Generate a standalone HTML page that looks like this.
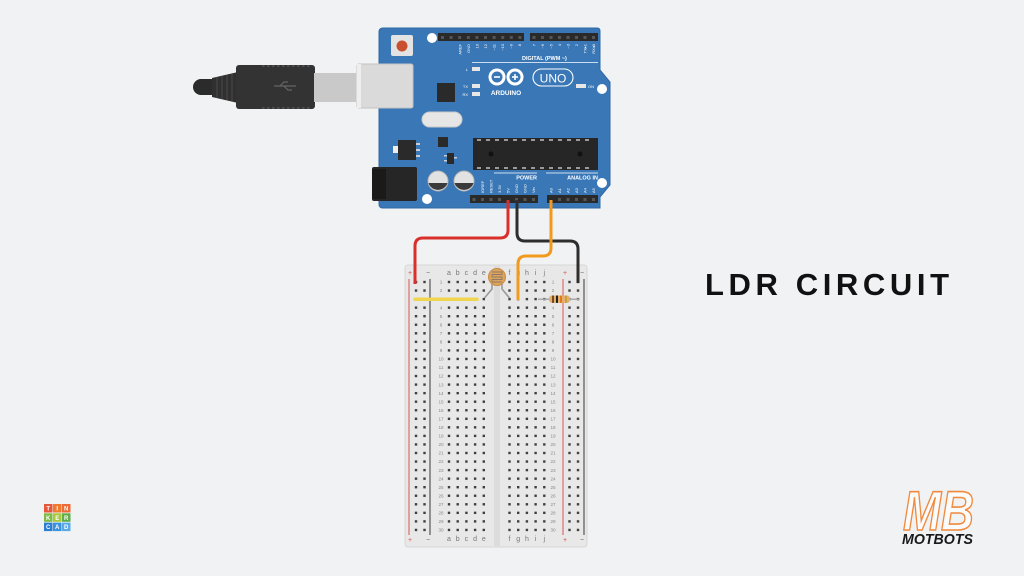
<!DOCTYPE html>
<html><head><meta charset="utf-8"><style>
html,body{margin:0;padding:0;background:#f1f2f4;}
svg{display:block;}
</style></head><body>
<svg width="1024" height="576" viewBox="0 0 1024 576" xmlns="http://www.w3.org/2000/svg" font-family="Liberation Sans, sans-serif">
<defs>
<pattern id="hT" patternUnits="userSpaceOnUse" x="447.8" y="280.8" width="8.7" height="8.55"><rect x="0" y="0" width="2.4" height="2.4" fill="#3e3e3e"/></pattern>
<pattern id="hT2" patternUnits="userSpaceOnUse" x="508.3" y="280.8" width="8.7" height="8.55"><rect x="0" y="0" width="2.4" height="2.4" fill="#3e3e3e"/></pattern>
<pattern id="hL" patternUnits="userSpaceOnUse" x="414.8" y="280.8" width="8.5" height="8.55"><rect x="0" y="0" width="2.4" height="2.4" fill="#3e3e3e"/></pattern>
<pattern id="hR" patternUnits="userSpaceOnUse" x="568.3" y="280.8" width="8.5" height="8.55"><rect x="0" y="0" width="2.4" height="2.4" fill="#3e3e3e"/></pattern>
</defs>
<rect width="1024" height="576" fill="#f1f2f4"/>

<!-- USB cable -->
<rect x="193" y="79" width="26" height="16" rx="8" fill="#2b2b2b"/>
<polygon points="212,78 238,72 238,103 212,97" fill="#303030"/>
<g stroke="#4a4a4a" stroke-width="1">
<line x1="217" y1="77" x2="217" y2="98"/><line x1="222" y1="76" x2="222" y2="99"/><line x1="227" y1="75" x2="227" y2="100"/><line x1="232" y1="74" x2="232" y2="101"/>
</g>
<rect x="236" y="65" width="79" height="44" rx="3" fill="#333"/>
<line x1="262" y1="66" x2="310" y2="66" stroke="#555" stroke-width="1.5" stroke-dasharray="2.5,2.5"/>
<line x1="262" y1="108" x2="310" y2="108" stroke="#555" stroke-width="1.5" stroke-dasharray="2.5,2.5"/>
<g stroke="#666" stroke-width="1.2" fill="none"><line x1="274" y1="86" x2="296" y2="86"/><path d="M280,86 l4,-4 h4"/><path d="M284,86 l4,4 h4"/></g>
<rect x="314" y="73" width="42" height="29" fill="#c9c9c9"/>

<!-- Arduino board -->
<path d="M383,28 L597,28 Q600,28 600,31 L600,70 L610,82 L610,185 L600,197 L600,208 L383,208 Q379,208 379,204 L379,32 Q379,28 383,28 Z" fill="#3a77b6" stroke="#2f68a3" stroke-width="1"/>
<rect x="357" y="64" width="56" height="44" rx="2" fill="#dadada" stroke="#c2c2c2"/>
<rect x="357" y="64" width="4" height="44" fill="#eeeeee"/>
<!-- power jack -->
<rect x="372" y="167" width="45" height="34" rx="2" fill="#262626"/>
<rect x="372" y="169" width="14" height="30" fill="#1a1a1a"/>
<!-- reset -->
<rect x="391" y="35" width="22" height="21" rx="2" fill="#e3e3e3"/>
<circle cx="402" cy="46" r="5.5" fill="#c9502f"/>
<!-- mounting holes -->
<circle cx="432" cy="38" r="5" fill="#fff"/>
<circle cx="602" cy="89" r="5" fill="#fff"/>
<circle cx="602" cy="183" r="5" fill="#fff"/>
<circle cx="427" cy="199" r="5" fill="#fff"/>
<!-- top headers -->
<rect x="438" y="33" width="86" height="8" fill="#2a2a2a"/>
<rect x="530" y="33" width="68" height="8" fill="#2a2a2a"/>
<g fill="#555">
<rect x="441" y="36" width="3" height="3"/><rect x="449.6" y="36" width="3" height="3"/><rect x="458.2" y="36" width="3" height="3"/><rect x="466.8" y="36" width="3" height="3"/><rect x="475.4" y="36" width="3" height="3"/><rect x="484" y="36" width="3" height="3"/><rect x="492.6" y="36" width="3" height="3"/><rect x="501.2" y="36" width="3" height="3"/><rect x="509.8" y="36" width="3" height="3"/><rect x="518.4" y="36" width="3" height="3"/>
<rect x="532.5" y="36" width="3" height="3"/><rect x="541" y="36" width="3" height="3"/><rect x="549.5" y="36" width="3" height="3"/><rect x="558" y="36" width="3" height="3"/><rect x="566.5" y="36" width="3" height="3"/><rect x="575" y="36" width="3" height="3"/><rect x="583.5" y="36" width="3" height="3"/><rect x="592" y="36" width="3" height="3"/>
</g>
<g fill="#fff" font-size="4" text-anchor="end">
<text transform="translate(461.5,44) rotate(-90)">AREF</text>
<text transform="translate(470,44) rotate(-90)">GND</text>
<text transform="translate(478.5,44) rotate(-90)">13</text>
<text transform="translate(487,44) rotate(-90)">12</text>
<text transform="translate(495.5,44) rotate(-90)">~11</text>
<text transform="translate(504,44) rotate(-90)">~10</text>
<text transform="translate(512.5,44) rotate(-90)">~9</text>
<text transform="translate(521,44) rotate(-90)">8</text>
<text transform="translate(535.5,44) rotate(-90)">7</text>
<text transform="translate(544,44) rotate(-90)">~6</text>
<text transform="translate(552.5,44) rotate(-90)">~5</text>
<text transform="translate(561,44) rotate(-90)">4</text>
<text transform="translate(569.5,44) rotate(-90)">~3</text>
<text transform="translate(578,44) rotate(-90)">2</text>
<text transform="translate(586.5,44) rotate(-90)">TX▸1</text>
<text transform="translate(595,44) rotate(-90)">RX◂0</text>
</g>
<text x="522" y="60" font-size="5.5" font-weight="bold" fill="#fff">DIGITAL (PWM ~)</text>
<line x1="472" y1="62.5" x2="598" y2="62.5" stroke="#fff" stroke-width="0.8"/>
<!-- logo -->
<circle cx="497" cy="77" r="7" fill="none" stroke="#fff" stroke-width="3"/>
<circle cx="515" cy="77" r="7" fill="none" stroke="#fff" stroke-width="3"/>
<line x1="494" y1="77" x2="500" y2="77" stroke="#fff" stroke-width="1.6"/>
<line x1="512" y1="77" x2="518" y2="77" stroke="#fff" stroke-width="1.6"/>
<line x1="515" y1="74" x2="515" y2="80" stroke="#fff" stroke-width="1.6"/>
<text x="506" y="95" font-size="6.5" font-weight="bold" fill="#fff" text-anchor="middle">ARDUINO</text>
<rect x="533" y="69" width="40" height="17" rx="8.5" fill="none" stroke="#fff" stroke-width="1.1"/>
<text x="553" y="82.5" font-size="12" fill="#fff" text-anchor="middle">UNO</text>
<!-- LEDs -->
<rect x="472" y="67" width="8" height="4" fill="#e6e6e6"/><text x="468" y="71" font-size="4" fill="#fff" text-anchor="end">L</text>
<rect x="472" y="84" width="8" height="4" fill="#e6e6e6"/><text x="468" y="88" font-size="4" fill="#fff" text-anchor="end">TX</text>
<rect x="472" y="92" width="8" height="4" fill="#e6e6e6"/><text x="468" y="96" font-size="4" fill="#fff" text-anchor="end">RX</text>
<rect x="576" y="84" width="10" height="4" fill="#e6e6e6"/><text x="588" y="88" font-size="4" fill="#fff">ON</text>
<!-- components -->
<rect x="437" y="83" width="18" height="19" fill="#2a2a2a"/>
<rect x="422" y="112" width="40" height="15" rx="7.5" fill="#e6e6e6" stroke="#c8c8c8"/>
<rect x="438" y="137" width="10" height="10" fill="#2a2a2a"/>
<rect x="393" y="146" width="6" height="7" fill="#eee"/>
<rect x="398" y="140" width="18" height="20" fill="#2a2a2a"/>
<rect x="416" y="143" width="4" height="2" fill="#ccc"/><rect x="416" y="149" width="4" height="2" fill="#ccc"/><rect x="416" y="155" width="4" height="2" fill="#ccc"/>
<rect x="447" y="153" width="7" height="11" fill="#2a2a2a"/>
<rect x="444" y="155" width="3" height="1.5" fill="#ccc"/><rect x="444" y="160" width="3" height="1.5" fill="#ccc"/><rect x="454" y="157" width="3" height="1.5" fill="#ccc"/>
<!-- ATmega -->
<rect x="473" y="138" width="125" height="32" fill="#262626"/>
<g fill="#9a9a9a">
<rect x="477" y="139" width="4" height="2"/><rect x="486" y="139" width="4" height="2"/><rect x="495" y="139" width="4" height="2"/><rect x="504" y="139" width="4" height="2"/><rect x="513" y="139" width="4" height="2"/><rect x="522" y="139" width="4" height="2"/><rect x="531" y="139" width="4" height="2"/><rect x="540" y="139" width="4" height="2"/><rect x="549" y="139" width="4" height="2"/><rect x="558" y="139" width="4" height="2"/><rect x="567" y="139" width="4" height="2"/><rect x="576" y="139" width="4" height="2"/><rect x="585" y="139" width="4" height="2"/>
<rect x="477" y="167" width="4" height="2"/><rect x="486" y="167" width="4" height="2"/><rect x="495" y="167" width="4" height="2"/><rect x="504" y="167" width="4" height="2"/><rect x="513" y="167" width="4" height="2"/><rect x="522" y="167" width="4" height="2"/><rect x="531" y="167" width="4" height="2"/><rect x="540" y="167" width="4" height="2"/><rect x="549" y="167" width="4" height="2"/><rect x="558" y="167" width="4" height="2"/><rect x="567" y="167" width="4" height="2"/><rect x="576" y="167" width="4" height="2"/><rect x="585" y="167" width="4" height="2"/>
</g>
<circle cx="491" cy="154" r="2.5" fill="#111"/><circle cx="580" cy="154" r="2.5" fill="#111"/>
<!-- capacitors -->
<circle cx="438" cy="181" r="10" fill="#e2e2e2" stroke="#b5b5b5"/>
<path d="M428.5,183 A10,10 0 0,0 447.5,183 Z" fill="#3a3a3a"/>
<circle cx="464" cy="181" r="10" fill="#e2e2e2" stroke="#b5b5b5"/>
<path d="M454.5,183 A10,10 0 0,0 473.5,183 Z" fill="#3a3a3a"/>
<!-- power / analog labels -->
<line x1="494" y1="173" x2="537" y2="173" stroke="#fff" stroke-width="0.8"/>
<line x1="546" y1="173" x2="598" y2="173" stroke="#fff" stroke-width="0.8"/>
<text x="537" y="179.5" font-size="5.5" font-weight="bold" fill="#fff" text-anchor="end">POWER</text>
<text x="598" y="179.5" font-size="5.5" font-weight="bold" fill="#fff" text-anchor="end">ANALOG IN</text>
<g fill="#fff" font-size="4">
<text transform="translate(484,193) rotate(-90)">IOREF</text>
<text transform="translate(492.5,193) rotate(-90)">RESET</text>
<text transform="translate(501,193) rotate(-90)">3.3V</text>
<text transform="translate(509.5,193) rotate(-90)">5V</text>
<text transform="translate(518,193) rotate(-90)">GND</text>
<text transform="translate(526.5,193) rotate(-90)">GND</text>
<text transform="translate(535,193) rotate(-90)">Vin</text>
<text transform="translate(552.5,193) rotate(-90)">A0</text>
<text transform="translate(561,193) rotate(-90)">A1</text>
<text transform="translate(569.5,193) rotate(-90)">A2</text>
<text transform="translate(578,193) rotate(-90)">A3</text>
<text transform="translate(586.5,193) rotate(-90)">A4</text>
<text transform="translate(595,193) rotate(-90)">A5</text>
</g>
<!-- bottom headers -->
<rect x="470" y="195" width="68" height="8" fill="#2a2a2a"/>
<rect x="547" y="195" width="51" height="8" fill="#2a2a2a"/>
<g fill="#555">
<rect x="472.5" y="198" width="3" height="3"/><rect x="481" y="198" width="3" height="3"/><rect x="489.5" y="198" width="3" height="3"/><rect x="498" y="198" width="3" height="3"/><rect x="515" y="198" width="3" height="3"/><rect x="523.5" y="198" width="3" height="3"/><rect x="532" y="198" width="3" height="3"/>
<rect x="558" y="198" width="3" height="3"/><rect x="566.5" y="198" width="3" height="3"/><rect x="575" y="198" width="3" height="3"/><rect x="583.5" y="198" width="3" height="3"/><rect x="592" y="198" width="3" height="3"/>
</g>

<!-- Breadboard -->
<rect x="405" y="265" width="182" height="282" rx="3" fill="#e8e8e8" stroke="#d6d6d6"/>
<rect x="494" y="266" width="6" height="280" fill="#dcdcdc"/>
<line x1="409" y1="279" x2="409" y2="535" stroke="#d9534f" stroke-width="1"/>
<line x1="430" y1="279" x2="430" y2="535" stroke="#555" stroke-width="1.2"/>
<line x1="563" y1="279" x2="563" y2="535" stroke="#d9534f" stroke-width="1"/>
<line x1="584" y1="279" x2="584" y2="535" stroke="#555" stroke-width="1.2"/>
<rect x="413" y="280" width="15" height="257" fill="url(#hL)"/>
<rect x="566" y="280" width="15" height="257" fill="url(#hR)"/>
<rect x="446" y="280" width="42" height="257" fill="url(#hT)"/>
<rect x="507" y="280" width="42" height="257" fill="url(#hT2)"/>
<g font-size="7" fill="#d9534f" text-anchor="middle"><text x="410" y="275">+</text><text x="565" y="275">+</text><text x="410" y="542">+</text><text x="565" y="542">+</text></g>
<g font-size="7" fill="#666" text-anchor="middle"><text x="428" y="275">−</text><text x="582" y="275">−</text><text x="428" y="542">−</text><text x="582" y="542">−</text></g>
<g font-size="7" fill="#777" text-anchor="middle">
<text x="449" y="275">a</text><text x="457.7" y="275">b</text><text x="466.4" y="275">c</text><text x="475.1" y="275">d</text><text x="483.8" y="275">e</text>
<text x="509.5" y="275">f</text><text x="518.2" y="275">g</text><text x="526.9" y="275">h</text><text x="535.6" y="275">i</text><text x="544.3" y="275">j</text>
<text x="449" y="541">a</text><text x="457.7" y="541">b</text><text x="466.4" y="541">c</text><text x="475.1" y="541">d</text><text x="483.8" y="541">e</text>
<text x="509.5" y="541">f</text><text x="518.2" y="541">g</text><text x="526.9" y="541">h</text><text x="535.6" y="541">i</text><text x="544.3" y="541">j</text>
</g>
<g font-size="4.6" fill="#888" text-anchor="middle">
<text x="441" y="283.7">1</text><text x="441" y="292.2">2</text><text x="441" y="300.8">3</text><text x="441" y="309.3">4</text><text x="441" y="317.9">5</text><text x="441" y="326.4">6</text><text x="441" y="335">7</text><text x="441" y="343.5">8</text><text x="441" y="352.1">9</text><text x="441" y="360.6">10</text><text x="441" y="369.2">11</text><text x="441" y="377.7">12</text><text x="441" y="386.3">13</text><text x="441" y="394.8">14</text><text x="441" y="403.4">15</text><text x="441" y="411.9">16</text><text x="441" y="420.5">17</text><text x="441" y="429">18</text><text x="441" y="437.6">19</text><text x="441" y="446.1">20</text><text x="441" y="454.7">21</text><text x="441" y="463.2">22</text><text x="441" y="471.8">23</text><text x="441" y="480.3">24</text><text x="441" y="488.9">25</text><text x="441" y="497.4">26</text><text x="441" y="506">27</text><text x="441" y="514.5">28</text><text x="441" y="523.1">29</text><text x="441" y="531.6">30</text>
<text x="553" y="283.7">1</text><text x="553" y="292.2">2</text><text x="553" y="300.8">3</text><text x="553" y="309.3">4</text><text x="553" y="317.9">5</text><text x="553" y="326.4">6</text><text x="553" y="335">7</text><text x="553" y="343.5">8</text><text x="553" y="352.1">9</text><text x="553" y="360.6">10</text><text x="553" y="369.2">11</text><text x="553" y="377.7">12</text><text x="553" y="386.3">13</text><text x="553" y="394.8">14</text><text x="553" y="403.4">15</text><text x="553" y="411.9">16</text><text x="553" y="420.5">17</text><text x="553" y="429">18</text><text x="553" y="437.6">19</text><text x="553" y="446.1">20</text><text x="553" y="454.7">21</text><text x="553" y="463.2">22</text><text x="553" y="471.8">23</text><text x="553" y="480.3">24</text><text x="553" y="488.9">25</text><text x="553" y="497.4">26</text><text x="553" y="506">27</text><text x="553" y="514.5">28</text><text x="553" y="523.1">29</text><text x="553" y="531.6">30</text>
</g>

<!-- yellow wire -->
<line x1="415" y1="299.2" x2="477" y2="299.2" stroke="#f0d64e" stroke-width="3.5" stroke-linecap="round"/>
<!-- LDR -->
<polyline points="492,284 492,289 484.5,298" fill="none" stroke="#9a9a9a" stroke-width="1.6"/>
<polyline points="502,284 502,289 509.5,298" fill="none" stroke="#9a9a9a" stroke-width="1.6"/>
<circle cx="497" cy="277" r="8.5" fill="#dca45e" stroke="#c98b3e" stroke-width="1"/>
<path d="M492,272 h10 v2.5 h-10 v2.5 h10 v2.5 h-10 v2.5 h10" fill="none" stroke="#8e7a66" stroke-width="0.9"/>
<!-- resistor -->
<line x1="538" y1="299.2" x2="579" y2="299.2" stroke="#a8a8a8" stroke-width="1.5"/>
<rect x="549" y="295.5" width="21" height="7.4" rx="3" fill="#e2b06c"/>
<rect x="552" y="295.5" width="2" height="7.4" fill="#7a4a20"/>
<rect x="556" y="295.5" width="2" height="7.4" fill="#222"/>
<rect x="560" y="295.5" width="2" height="7.4" fill="#e07a1a"/>
<rect x="565" y="295.5" width="2" height="7.4" fill="#c8a040"/>

<!-- wires -->
<path d="M508,200 L508,230 Q508,238 500,238 L423,238 Q415,238 415,246 L415,284" fill="none" stroke="#d9302c" stroke-width="3"/>
<path d="M517,200 L517,233 Q517,241 525,241 L570,241 Q578,241 578,249 L578,283" fill="none" stroke="#2e2e2e" stroke-width="3"/>
<path d="M551,200 L551,248 Q551,256 543,256 L526,256 Q518,256 518,264 L518,300" fill="none" stroke="#f29a1c" stroke-width="3"/>

<!-- Title -->
<text x="705" y="295" font-size="31" font-weight="bold" fill="#111" letter-spacing="4.6">LDR CIRCUIT</text>

<!-- Tinkercad logo -->
<g font-size="6" font-weight="bold" fill="#fff" text-anchor="middle">
<rect x="44" y="504" width="8.5" height="8.5" fill="#e8563c"/><text x="48.2" y="510.6">T</text>
<rect x="53" y="504" width="8.5" height="8.5" fill="#f07a32"/><text x="57.2" y="510.6">I</text>
<rect x="62" y="504" width="8.5" height="8.5" fill="#ee6a36"/><text x="66.2" y="510.6">N</text>
<rect x="44" y="513.3" width="8.5" height="8.5" fill="#7dbb44"/><text x="48.2" y="519.9">K</text>
<rect x="53" y="513.3" width="8.5" height="8.5" fill="#a8c93c"/><text x="57.2" y="519.9">E</text>
<rect x="62" y="513.3" width="8.5" height="8.5" fill="#5fae4a"/><text x="66.2" y="519.9">R</text>
<rect x="44" y="522.6" width="8.5" height="8.5" fill="#2b7fd2"/><text x="48.2" y="529.2">C</text>
<rect x="53" y="522.6" width="8.5" height="8.5" fill="#3d92e0"/><text x="57.2" y="529.2">A</text>
<rect x="62" y="522.6" width="8.5" height="8.5" fill="#5aaae8"/><text x="66.2" y="529.2">D</text>
</g>

<!-- MB logo -->
<text x="903" y="530" font-size="56" font-weight="bold" font-style="italic" fill="#fbfbfb" stroke="#f08a3e" stroke-width="1.6" textLength="71" lengthAdjust="spacingAndGlyphs">MB</text>
<text x="902" y="544" font-size="14.5" font-weight="bold" font-style="italic" fill="#1a1a1a" textLength="71" lengthAdjust="spacingAndGlyphs">MOTBOTS</text>
</svg>
</body></html>
